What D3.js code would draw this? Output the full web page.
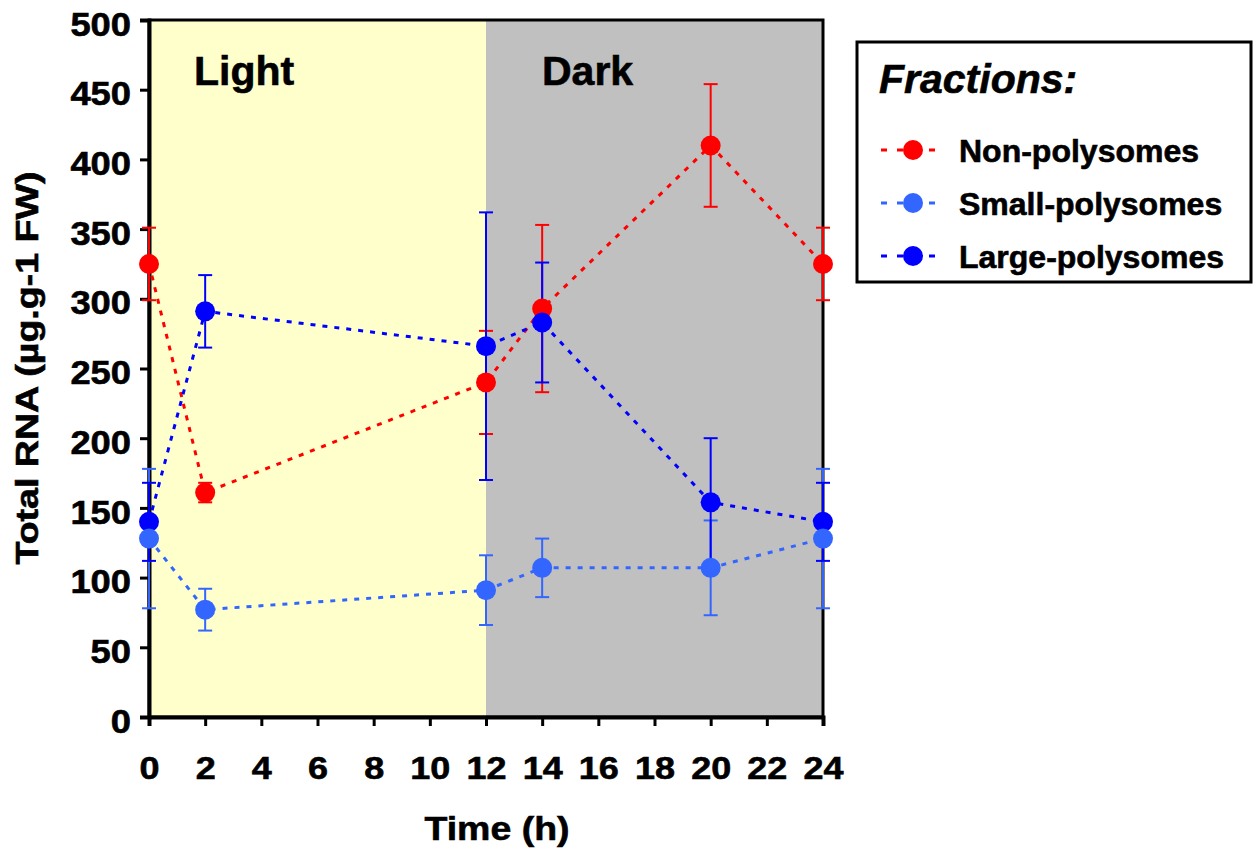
<!DOCTYPE html>
<html>
<head>
<meta charset="utf-8">
<script src="https://cdn.jsdelivr.net/npm/d3@7"></script>
<style>
  html, body { margin: 0; padding: 0; background: #ffffff; }
  svg { display: block; }
  .bold { font-family: "Liberation Sans", Arial, sans-serif; font-weight: bold; stroke: #000; stroke-width: 0.6px; }
</style>
</head>
<body>
<svg id="chart" width="1260" height="850"></svg>
<script>
// ---- data ----
const times = [0, 2, 12, 14, 20, 24];
const nonPoly = [325, 161, 240, 293, 410, 325];
const nonPolyErr = [26, 7, 37, 60, 44, 26];
const smallPoly = [128, 77, 91, 107, 107, 128];
const smallPolyErr = [50, 15, 25, 21, 34, 50];
const largePoly = [140, 291, 266, 283, 154, 140];
const largePolyErr = [28, 26, 96, 43, 46, 28];
const seriesNames = ["Non-polysomes", "Small-polysomes", "Large-polysomes"];
const seriesColors = ["#FF0000", "#3366FF", "#0000FF"];
const xTicks = [0, 2, 4, 6, 8, 10, 12, 14, 16, 18, 20, 22, 24];
const yTicks = [0, 50, 100, 150, 200, 250, 300, 350, 400, 450, 500];
const periods = [
  { label: "Light", start: 0, end: 12, color: "#FFFFCC" },
  { label: "Dark", start: 12, end: 24, color: "#C0C0C0" }
];

const series = [
  { name: seriesNames[0], color: seriesColors[0], values: nonPoly, errs: nonPolyErr },
  { name: seriesNames[1], color: seriesColors[1], values: smallPoly, errs: smallPolyErr },
  { name: seriesNames[2], color: seriesColors[2], values: largePoly, errs: largePolyErr }
];

const svg = d3.select("#chart");
const L = 149, R = 823, T = 20, B = 717;
const x = d3.scaleLinear().domain([0, 24]).range([L, R]);
const y = d3.scaleLinear().domain([0, 500]).range([B, T]);

// backgrounds
svg.selectAll("rect.period").data(periods).enter().append("rect")
  .attr("x", d => x(d.start)).attr("y", y(500))
  .attr("width", d => x(d.end) - x(d.start)).attr("height", y(0) - y(500))
  .attr("fill", d => d.color);

// period labels
svg.append("text").attr("class", "bold").attr("x", 194).attr("y", 85)
  .attr("font-size", 41).text(periods[0].label);
svg.append("text").attr("class", "bold").attr("x", 542).attr("y", 85)
  .attr("font-size", 41).text(periods[1].label);

// frame
svg.append("rect").attr("x", L).attr("y", T).attr("width", R - L).attr("height", B - T)
  .attr("fill", "none").attr("stroke", "#000").attr("stroke-width", 3);

// axes
const yAxis = d3.axisLeft(y).tickValues(yTicks).tickSize(9).tickPadding(9);
const gy = svg.append("g").attr("transform", `translate(${L},0)`).call(yAxis);
gy.select(".domain").attr("stroke-width", 4);
gy.selectAll(".tick line").attr("stroke-width", 3);
gy.selectAll(".tick text").attr("class", "bold").attr("font-size", 33).attr("fill", "#000")
  .attr("dy", "0.46em")
  .attr("textLength", d => String(d).length * 20.2).attr("lengthAdjust", "spacingAndGlyphs");

const xAxis = d3.axisBottom(x).tickValues(xTicks).tickSize(9).tickPadding(30);
const gx = svg.append("g").attr("transform", `translate(0,${B})`).call(xAxis);
gx.select(".domain").attr("stroke-width", 4);
gx.selectAll(".tick line").attr("stroke-width", 3);
gx.selectAll(".tick text").attr("class", "bold").attr("font-size", 32).attr("fill", "#000")
  .attr("dy", "0.71em")
  .attr("textLength", d => String(d).length * 20).attr("lengthAdjust", "spacingAndGlyphs");

// axis titles
svg.append("text").attr("class", "bold").attr("x", 497).attr("y", 840)
  .attr("text-anchor", "middle").attr("font-size", 34)
  .attr("textLength", 145).attr("lengthAdjust", "spacingAndGlyphs").text("Time (h)");
svg.append("text").attr("class", "bold")
  .attr("transform", `translate(38,368) rotate(-90)`)
  .attr("text-anchor", "middle").attr("font-size", 31)
  .attr("textLength", 393).attr("lengthAdjust", "spacingAndGlyphs")
  .text("Total RNA (µg.g-1 FW)");

// lines
const line = d3.line().x(d => x(d.t)).y(d => y(d.v));
series.forEach(s => {
  const pts = times.map((t, i) => ({ t, v: s.values[i], e: s.errs[i] }));
  svg.append("path").datum(pts).attr("d", line)
    .attr("fill", "none").attr("stroke", s.color).attr("stroke-width", 3)
    .attr("stroke-dasharray", "5,7");
});

// error bars
series.forEach(s => {
  const pts = times.map((t, i) => ({ t, v: s.values[i], e: s.errs[i] }));
  const g = svg.append("g").attr("stroke", s.color).attr("stroke-width", 2);
  g.selectAll("line.v").data(pts).enter().append("line")
    .attr("x1", d => x(d.t)).attr("x2", d => x(d.t))
    .attr("y1", d => y(d.v + d.e)).attr("y2", d => y(d.v - d.e));
  g.selectAll("line.top").data(pts).enter().append("line")
    .attr("x1", d => x(d.t) - 7).attr("x2", d => x(d.t) + 7)
    .attr("y1", d => y(d.v + d.e)).attr("y2", d => y(d.v + d.e));
  g.selectAll("line.bot").data(pts).enter().append("line")
    .attr("x1", d => x(d.t) - 7).attr("x2", d => x(d.t) + 7)
    .attr("y1", d => y(d.v - d.e)).attr("y2", d => y(d.v - d.e));
});

// markers (red, then large, then small on top)
[series[0], series[2], series[1]].forEach(s => {
  const pts = times.map((t, i) => ({ t, v: s.values[i] }));
  svg.append("g").selectAll("circle").data(pts).enter().append("circle")
    .attr("cx", d => x(d.t)).attr("cy", d => y(d.v)).attr("r", 10)
    .attr("fill", s.color);
});

// legend
const lg = svg.append("g");
lg.append("rect").attr("x", 857).attr("y", 42).attr("width", 394).attr("height", 240)
  .attr("fill", "#fff").attr("stroke", "#000").attr("stroke-width", 3);
lg.append("text").attr("class", "bold").attr("x", 879).attr("y", 93)
  .attr("font-size", 41).attr("font-style", "italic").text("Fractions:");
series.forEach((s, i) => {
  const cy = 150 + i * 53;
  lg.append("line").attr("x1", 881).attr("x2", 943).attr("y1", cy).attr("y2", cy)
    .attr("stroke", s.color).attr("stroke-width", 3).attr("stroke-dasharray", "6,10");
  lg.append("circle").attr("cx", 913).attr("cy", cy).attr("r", 10).attr("fill", s.color);
  lg.append("text").attr("class", "bold").attr("x", 959).attr("y", cy + 12)
    .attr("font-size", 32).text(s.name);
});
</script>
</body>
</html>
